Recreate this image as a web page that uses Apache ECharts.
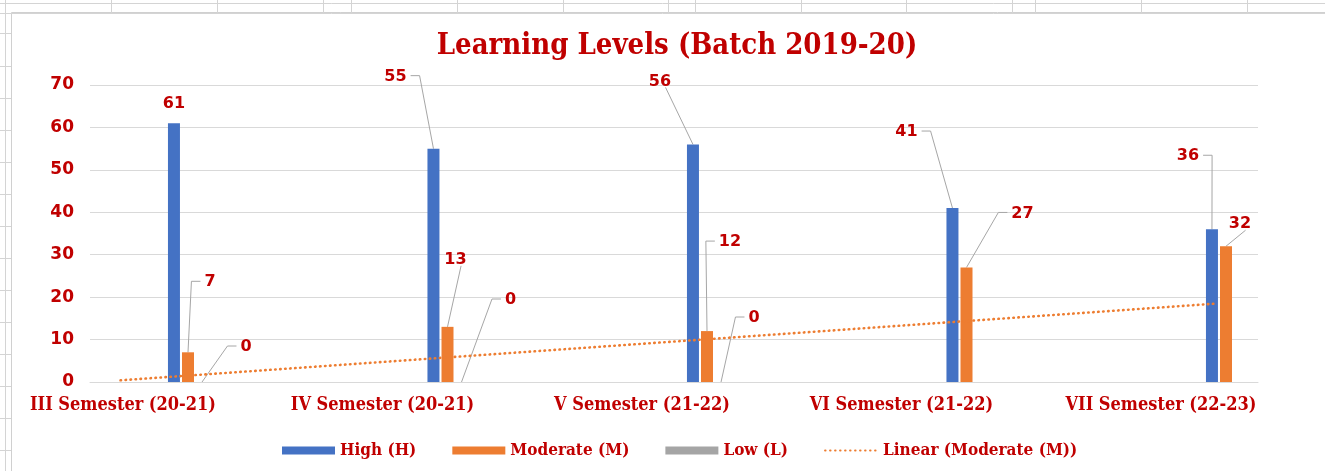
<!DOCTYPE html>
<html><head><meta charset="utf-8">
<script src="https://cdn.jsdelivr.net/npm/echarts@6/dist/echarts.min.js"></script>
<style>html,body{margin:0;padding:0;background:#fff}#c{width:1325px;height:471px}</style>
</head><body><div id="c"></div>
<script>
// ---- data ----
const categories = ['III Semester (20-21)', 'IV Semester (20-21)', 'V Semester (21-22)', 'VI Semester (21-22)', 'VII Semester (22-23)'];
const high = [61, 55, 56, 41, 36];
const moderate = [7, 13, 12, 27, 32];
const low = [0, 0, 0, null, null];
// linear trendline of Moderate (M): start / end (x in category index units)
const trendX = [-0.26, 3.965];
const trendY = [0.4, 18.5];
const yMin = 0, yMax = 70, yStep = 10;

// ---- layout ----
const W = 1325;
const plotL = 90, plotR = 1258;          // visible plot frame
const barL = 188, barR = 1226;           // first / last category centre
const bandW = (barR - barL) / (categories.length - 1);
const BAR_W = 12, BAR_GAP = 2.04;
const LABEL_FONT_SIZE = 16, LABEL_H = 18, LABEL_DIST = 5;

// ---- label placement (pixel offsets from default 'top' position) + leader style ----
// mode: 'n' no leader, 'h' elbow to label side, 'v' straight to label bottom
const highOff = [[0,-6],[-38,-59],[-33,-50],[-46,-63],[-24,-60]];
const highMode = ['n','h','v','h','h'];
const modOff  = [[22,-57],[8,-54],[23,-76],[56,-41],[14,-9]];
const modMode = ['h','v','h','h','v'];
const lowOff  = [[44,-22],[49,-69],[33,-51],[0,0],[0,0]];
const lowMode = ['h','h','h','n','n'];

const RED = '#C00000';
const SERIF = "'DejaVu Serif Condensed', 'DejaVu Serif', 'Liberation Serif', serif";
const SANS = "'DejaVu Sans', sans-serif";

const labelStyle = {show: true, position: 'top', distance: LABEL_DIST, color: RED, fontFamily: SANS, fontWeight: 'bold', fontSize: LABEL_FONT_SIZE};

function layoutFn(off) {
  return function (p) { const d = off[p.dataIndex] || [0, 0]; return {dx: d[0], dy: d[1]}; };
}

// text width helper for leader-line endpoints
const mctx = document.createElement('canvas').getContext('2d');
mctx.font = 'bold ' + LABEL_FONT_SIZE + 'px "DejaVu Sans"';
const textW = t => mctx.measureText(String(t)).width;

// leader lines: one entry per labelled bar
const leaders = [];
[[high, highOff, highMode, -1], [moderate, modOff, modMode, 0], [low, lowOff, lowMode, 1]].forEach(([vals, off, mode, slot]) => {
  vals.forEach((v, i) => {
    if (v === null || mode[i] === 'n') return;
    leaders.push({cat: i, value: v, slot: slot, dx: off[i][0], dy: off[i][1], mode: mode[i], w: textW(v)});
  });
});

function renderLeader(params, api) {
  const L = leaders[api.value(2)];
  const pt = api.coord([api.value(0), api.value(1)]);
  const bx = pt[0] + L.slot * (BAR_W + BAR_GAP), by = pt[1];
  const cx = bx + L.dx, cy = by - LABEL_DIST - LABEL_H / 2 + L.dy;
  const left = cx - L.w / 2, right = cx + L.w / 2;
  let pts;
  if (L.mode === 'v') {
    pts = [[bx, by], [cx + L.w / 4, cy + LABEL_H / 2 - 2]];
  } else if (left > bx) {
    pts = [[bx, by], [left - 13, cy], [left - 4, cy]];
  } else {
    pts = [[bx, by], [right + 13, cy], [right + 4, cy]];
  }
  return {type: 'polyline', shape: {points: pts}, style: {stroke: '#A6A6A6', lineWidth: 1, fill: null}, silent: true};
}

// ---- spreadsheet backdrop decoration ----
const colX = [111, 217, 323, 351, 457, 563, 668, 695, 801, 906, 1012, 1035, 1141, 1247];
const rowY = [33, 66, 98, 130, 162, 194, 226, 258, 290, 322, 354, 386, 418, 450];
const gl = {stroke: '#D4D4D4', lineWidth: 1};
const graphic = [
  {type: 'line', shape: {x1: 0, y1: 3.5, x2: W, y2: 3.5}, style: gl, silent: true},
  {type: 'line', shape: {x1: 0, y1: 13.5, x2: W, y2: 13.5}, style: gl, silent: true},
  {type: 'line', shape: {x1: 5.5, y1: 0, x2: 5.5, y2: 471}, style: gl, silent: true},
  {type: 'rect', shape: {x: 11.5, y: 12.5, width: 1330, height: 480}, style: {fill: '#fff', stroke: '#D0D0D0', lineWidth: 1}, silent: true, z: -1}
];
colX.forEach(x => graphic.push({type: 'line', shape: {x1: x + 0.5, y1: 0, x2: x + 0.5, y2: 13}, style: gl, silent: true}));
rowY.forEach(y => graphic.push({type: 'line', shape: {x1: 0, y1: y + 0.5, x2: 11, y2: y + 0.5}, style: gl, silent: true}));

const chart = echarts.init(document.getElementById('c'));
chart.setOption({
  backgroundColor: '#fff',
  animation: false,
  graphic: graphic,
  title: {
    text: 'Learning Levels (Batch 2019-20)', left: 672, top: 27, textAlign: 'center',
    textStyle: {color: RED, fontFamily: SERIF, fontWeight: 'bold', fontSize: 29}
  },
  legend: {
    left: 277, top: 437, itemWidth: 53, itemHeight: 8, itemGap: 36,
    textStyle: {color: RED, fontFamily: SERIF, fontWeight: 'bold', fontSize: 17},
    data: [
      {name: 'High (H)', icon: 'rect'},
      {name: 'Moderate (M)', icon: 'rect'},
      {name: 'Low (L)', icon: 'rect'},
      {name: 'Linear (Moderate (M))', itemStyle: {opacity: 0}}
    ]
  },
  grid: [
    {left: plotL, right: W - plotR, top: 85, bottom: 89},
    {left: barL, right: W - barR, top: 85, bottom: 89}
  ],
  xAxis: [
    // visible frame axis, in category-index units
    {gridIndex: 0, type: 'value', min: (plotL - barL) / bandW, max: (plotR - barL) / bandW,
     axisLine: {show: true, onZero: false, lineStyle: {color: '#D9D9D9', width: 1}},
     axisTick: {show: false}, axisLabel: {show: false}, splitLine: {show: false}},
    {gridIndex: 1, type: 'category', data: categories, boundaryGap: false,
     axisLine: {show: false}, axisTick: {show: false}, splitLine: {show: false},
     axisLabel: {interval: 0, color: RED, fontFamily: SERIF, fontWeight: 'bold', fontSize: 18, margin: 14, padding: [0, 130, 0, 0]}}
  ],
  yAxis: [
    {gridIndex: 0, type: 'value', min: yMin, max: yMax, interval: yStep,
     axisLine: {show: false}, axisTick: {show: false},
     axisLabel: {color: RED, fontFamily: SANS, fontWeight: 'bold', fontSize: 17, margin: 16},
     splitLine: {lineStyle: {color: '#D9D9D9', width: 1}}},
    {gridIndex: 1, type: 'value', min: yMin, max: yMax, show: false}
  ],
  series: [
    {name: 'High (H)', type: 'bar', xAxisIndex: 1, yAxisIndex: 1, barWidth: BAR_W, barGap: '17%',
     itemStyle: {color: '#4472C4'}, data: high,
     label: labelStyle, labelLayout: layoutFn(highOff)},
    {name: 'Moderate (M)', type: 'bar', xAxisIndex: 1, yAxisIndex: 1, barWidth: BAR_W, barGap: '17%',
     itemStyle: {color: '#ED7D31'}, data: moderate,
     label: labelStyle, labelLayout: layoutFn(modOff)},
    {name: 'Low (L)', type: 'bar', xAxisIndex: 1, yAxisIndex: 1, barWidth: BAR_W, barGap: '17%',
     itemStyle: {color: '#A5A5A5'}, data: low,
     label: labelStyle, labelLayout: layoutFn(lowOff)},
    {name: 'Linear (Moderate (M))', type: 'line', xAxisIndex: 0, yAxisIndex: 0,
     symbol: 'none', lineStyle: {color: '#ED7D31', type: [0.5, 4.5], width: 2.6, cap: 'round'}, itemStyle: {color: '#ED7D31'},
     data: trendX.map((x, i) => [x, trendY[i]]), z: 3},
    {type: 'custom', xAxisIndex: 1, yAxisIndex: 1, clip: false, silent: true, z: 1,
     encode: {x: 0, y: 1},
     data: leaders.map((L, k) => [L.cat, L.value, k]),
     renderItem: renderLeader}
  ]
});
</script></body></html>
